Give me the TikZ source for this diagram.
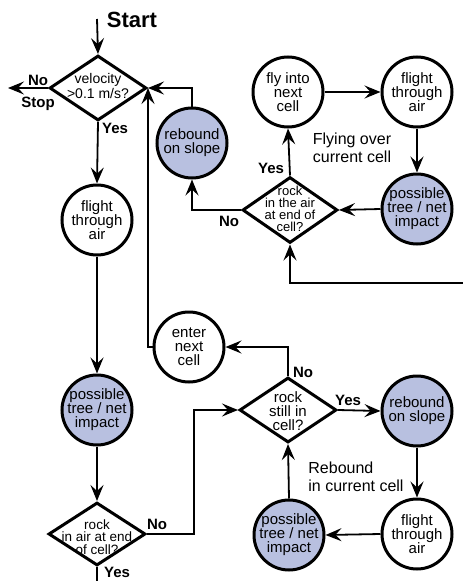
\documentclass[tikz,border=0pt]{standalone}
\usepackage{fontspec}
\setmainfont{Liberation Sans}
\usetikzlibrary{shapes.geometric,arrows.meta}
\definecolor{impactblue}{RGB}{184,192,224}

\tikzset{
  proc/.style={circle, draw, line width=3pt, minimum size=70pt, inner sep=-4pt,
    align=center, font=\fontsize{15}{14}\selectfont},
  impact/.style={proc, fill=impactblue},
  decide/.style={diamond, draw, line width=3pt, minimum width=97pt,
    minimum height=65pt, inner sep=0pt},
  dtext/.style={align=center, inner sep=0pt, font=\fontsize{14}{13}\selectfont},
  flow/.style={line width=1.8pt, -{Stealth[length=16pt,width=13pt,inset=6pt]}},
  yn/.style={font=\fontsize{15}{15}\selectfont\bfseries, inner sep=0pt},
  note/.style={align=left, font=\fontsize{16}{18}\selectfont, inner sep=0pt},
}

\begin{document}
\begin{tikzpicture}[x=1pt,y=-1pt]
  \useasboundingbox (0,0) rectangle (463,581);

  % start and first test
  \node[font=\fontsize{22}{24}\selectfont\bfseries, inner sep=0pt] (start) at (132,20) {Start};
  \coordinate (begin) at (97,19);
  \node[decide] (vel) at (98,88) {};
  \node[dtext] (vel-t) at (98,86) {velocity\\>0.1 m/s?};
  \coordinate (stopend) at (8,88);
  \node[yn] (no1) at (38,80) {No};
  \node[yn] (stop) at (38,104) {Stop};
  \node[yn] (yes1) at (115,128) {Yes};

  % left column
  \node[proc] (fta1) at (97,220) {flight\\through\\air};
  \node[impact] (imp1) at (97,410) {possible\\tree / net\\impact};
  \node[decide, minimum height=63pt] (air1) at (97,534) {};
  \node[dtext, font=\fontsize{13.5}{12.3}\selectfont] (air1-t) at (97,537) {rock\\in air at end\\of cell?};
  \coordinate (exit) at (97,581);
  \node[yn] (no2) at (157,524) {No};
  \node[yn] (yes2) at (117,572) {Yes};

  % flying over current cell
  \node[impact] (reb1) at (192,143) {rebound\\on slope};
  \node[proc] (flyin) at (288,92) {fly into\\next\\cell};
  \node[proc] (fta2) at (417,92) {flight\\through\\air};
  \node[impact] (imp2) at (417,209) {possible\\tree / net\\impact};
  \node[decide, minimum width=95pt, minimum height=66pt] (air2) at (290,210) {};
  \node[dtext, font=\fontsize{13}{12}\selectfont] (air2-t) at (290,209) {rock\\in the air\\at end of\\cell?};
  \node[yn] (no3) at (229,221) {No};
  \node[yn] (yes3) at (271,168) {Yes};
  \node[note] (flying) at (352,148) {Flying over\\current cell};
  \coordinate (fromright) at (463,283);

  % rebound in current cell
  \node[proc] (enter) at (189,347) {enter\\next\\cell};
  \node[decide] (still) at (288,410) {};
  \node[dtext, font=\fontsize{15}{14}\selectfont] (still-t) at (288,411) {rock\\still in\\cell?};
  \node[yn] (no4) at (303,372) {No};
  \node[yn] (yes4) at (348,400) {Yes};
  \node[impact] (reb2) at (417,411) {rebound\\on slope};
  \node[proc] (fta3) at (417,534) {flight\\through\\air};
  \node[impact] (imp3) at (289,535) {possible\\tree / net\\impact};
  \node[note] (rebound) at (356,477) {Rebound\\in current cell};

  % connectors
  \draw[flow] (begin) -- (vel.north);
  \draw[flow] (vel.west) -- (stopend);
  \draw[flow] (vel.south) -- (fta1.north);
  \draw[flow] (fta1.south) -- (imp1.north);
  \draw[flow] (imp1.south) -- (air1.north);
  \draw[line width=1.8pt] (air1.south) -- (exit);
  \draw[flow] (air1.east) -- ++(47,0) |- (still.west);
  \draw[flow] (still.north) |- (enter.east);
  \draw[flow] (enter.west) -| (vel.east);
  \draw[flow] (reb1.north) |- (vel.east);
  \draw[flow] (air2.west) -| (reb1.south);
  \draw[flow] (air2.north) -- (flyin.south);
  \draw[flow] (flyin.east) -- (fta2.west);
  \draw[flow] (fta2.south) -- (imp2.north);
  \draw[flow] (imp2.west) -- (air2.east);
  \draw[flow] (fromright) -| (air2.south);
  \draw[flow] (still.east) -- (reb2.west);
  \draw[flow] (reb2.south) -- (fta3.north);
  \draw[flow] (fta3.west) -- (imp3.east);
  \draw[flow] (imp3.north) -- (still.south);
\end{tikzpicture}
\end{document}
